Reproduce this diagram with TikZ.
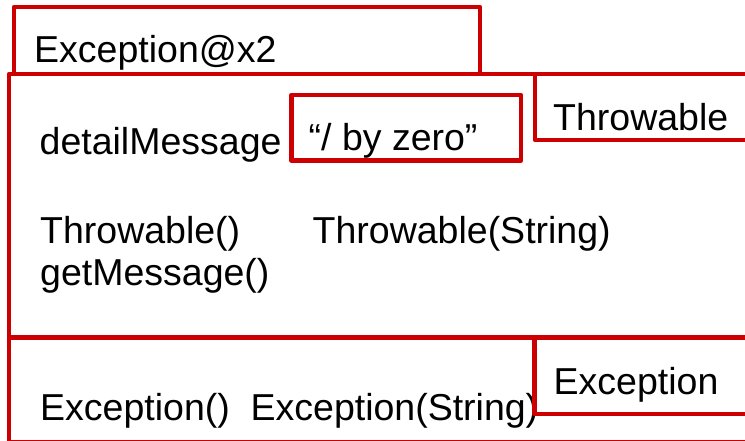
\documentclass[tikz,border=0pt]{standalone}
\usepackage{fontspec}
\setmainfont{Liberation Sans}
\definecolor{boxred}{RGB}{204,0,0}
\begin{document}
\begin{tikzpicture}[x=1pt,y=-1pt,
  frame/.style={draw=boxred, line width=4.5pt, fill=white, line join=round},
  txt/.style={anchor=base west, inner sep=0pt, font=\fontsize{37.5}{43}\selectfont}]
\useasboundingbox (0,0) rectangle (745,441);
\clip (0,0) rectangle (745,441);
% object header and the two class layers
\draw[frame] (14,7) rectangle (480,74);
\draw[frame] (9,74) rectangle (770,337.5);
\draw[frame] (9,337.5) rectangle (770,442);
\node[txt] (objname) at (34,62.5) {Exception@x2};
% Throwable layer
\node[txt] (field) at (39.5,155) {detailMessage};
\node[txt] (ctor1) at (40,243.5) {Throwable()};
\node[txt] (ctor2) at (312.5,243.5) {Throwable(String)};
\node[txt] (getmsg) at (40,285.5) {getMessage()};
% Exception layer
\node[txt] (ectors) at (40,420.5) {Exception()\ \ Exception(String)};
% class tags and field value
\draw[frame] (535,74) rectangle (770,140);
\node[txt] (thrtag) at (553,131) {Throwable};
\draw[frame] (291.5,95) rectangle (521,160.5);
\node[txt] (value) at (308.5,151) {“/ by zero”};
\draw[frame] (534.5,337.5) rectangle (770,414);
\node[txt] (exctag) at (553.5,394.5) {Exception};
\end{tikzpicture}
\end{document}
